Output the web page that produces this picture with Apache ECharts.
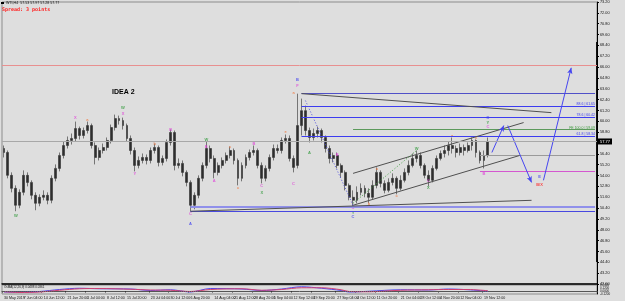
<!DOCTYPE html>
<html><head><meta charset="utf-8">
<script src="https://cdn.jsdelivr.net/npm/echarts/dist/echarts.min.js"></script>
<style>html,body{margin:0;padding:0;background:#dedede}#c{width:625px;height:301px}</style>
</head><body><div id="c"></div><script>
// ---- price data (WTI, H4, resampled) ----
const opens=[56.99,56.55,54.02,52.58,50.71,52.14,54.02,53.24,51.81,50.93,
51.59,51.81,51.26,53.69,54.79,56.22,57.32,57.88,58.10,59.20,
58.43,58.98,59.53,57.32,56.00,56.77,57.10,57.88,59.31,60.30,
60.08,59.53,58.10,56.77,55.12,55.67,56.00,55.67,56.77,57.10,
55.45,55.89,57.66,58.76,55.12,55.34,54.35,53.24,50.71,51.81,
53.69,55.12,56.99,55.89,54.35,55.12,55.67,56.22,56.77,55.67,
53.69,55.12,56.00,56.55,56.77,55.12,53.69,54.79,56.00,56.99,
56.77,57.88,58.10,55.89,55.12,59.53,61.18,58.98,58.21,58.65,
58.98,58.21,56.99,55.89,56.22,55.12,54.35,52.91,51.59,51.26,
52.14,52.58,52.03,51.59,52.91,54.35,53.13,52.36,53.24,53.69,
52.58,53.47,54.35,55.12,55.89,56.22,55.12,54.02,53.47,54.79,
55.89,56.44,56.77,57.32,56.99,56.55,57.10,56.77,57.32,57.88,
56.55,55.67,56.22];
const closes=[56.55,54.02,52.58,50.71,52.14,54.02,53.24,51.81,50.93,51.59,
51.81,51.26,53.69,54.79,56.22,57.32,57.88,58.10,59.20,58.43,
58.98,59.53,57.32,56.00,56.77,57.10,57.88,59.31,60.30,60.08,
59.53,58.10,56.77,55.12,55.67,56.00,55.67,56.77,57.10,55.45,
55.89,57.66,58.76,55.12,55.34,54.35,53.24,50.71,51.81,53.69,
55.12,56.99,55.89,54.35,55.12,55.67,56.22,56.77,55.67,53.69,
55.12,56.00,56.55,56.77,55.12,53.69,54.79,56.00,56.99,56.77,
57.88,58.10,55.89,54.90,59.53,61.18,58.98,58.21,58.65,58.98,
58.21,56.99,55.89,56.22,55.12,54.35,52.91,51.59,51.26,52.14,
52.58,52.03,51.59,52.91,54.35,53.13,52.36,53.24,53.69,52.58,
53.47,54.35,55.12,55.89,56.22,55.12,54.02,53.47,54.79,55.89,
56.44,56.77,57.32,56.99,56.55,57.10,56.77,57.32,57.88,56.55,
55.67,56.22,57.77];
const highs=[57.32,56.77,54.35,52.91,52.47,54.57,54.35,53.47,52.14,51.92,
52.36,52.14,54.02,55.23,56.55,57.77,58.32,58.65,59.97,59.42,
59.31,59.97,59.75,57.66,57.10,57.54,58.21,59.64,60.74,60.63,
60.41,59.75,58.43,57.10,56.11,56.44,56.33,57.10,57.54,57.32,
56.22,57.99,59.09,58.98,55.89,55.67,54.57,53.47,52.14,54.02,
55.45,57.77,57.32,56.22,55.45,56.00,56.55,57.21,56.99,55.89,
55.45,56.33,56.88,57.32,56.99,55.45,55.12,56.33,57.43,57.43,
58.21,58.54,58.43,56.22,63.06,62.51,61.73,59.31,59.20,59.42,
59.20,58.43,57.32,56.55,56.55,55.34,54.57,53.13,52.36,52.80,
53.13,52.91,52.58,53.47,54.90,54.57,53.47,53.69,54.24,53.91,
54.02,54.79,55.67,56.44,56.77,56.55,55.34,54.57,55.12,56.22,
56.77,57.32,57.77,58.21,57.32,57.54,57.43,57.66,58.21,57.99,
56.77,56.77,58.21];
const lows=[56.00,53.69,52.14,50.05,50.38,51.81,52.80,51.37,50.16,50.60,
51.26,50.82,50.93,53.36,54.46,55.89,56.99,57.43,57.77,57.99,
58.10,58.65,56.99,55.23,55.67,56.44,56.77,57.54,58.98,59.64,
59.09,57.77,56.33,54.46,54.79,55.34,55.23,55.34,56.44,55.01,
55.12,55.56,57.32,54.57,54.79,53.91,52.80,50.05,50.27,51.48,
53.36,54.79,55.45,53.69,54.02,54.79,55.34,55.89,55.23,52.91,
53.36,54.79,55.67,56.22,54.79,53.13,53.36,54.46,55.67,56.44,
56.44,57.54,55.56,54.35,54.79,58.43,58.43,57.66,57.88,58.21,
57.66,56.55,55.34,55.45,54.79,53.80,52.36,51.26,50.60,50.93,
51.81,51.59,50.93,51.37,52.58,52.69,52.03,52.14,52.91,51.92,
52.36,53.24,54.02,54.90,55.45,54.79,53.69,52.80,53.24,54.57,
55.67,56.00,56.22,56.44,56.00,56.22,56.22,56.55,56.77,56.00,
55.34,54.79,56.00];
const slotCount=150;
const currentPrice=57.77;
// ---- time axis ticks ----
const tickLabels=['30 May 2019','7 Jun 04:00','14 Jun 12:00','21 Jun 20:00','1 Jul 04:00','8 Jul 12:00','15 Jul 20:00','23 Jul 04:00','30 Jul 12:00','6 Aug 20:00','14 Aug 04:00','21 Aug 12:00','28 Aug 20:00','5 Sep 04:00','12 Sep 12:00','19 Sep 20:00','27 Sep 04:00','4 Oct 12:00','11 Oct 20:00','21 Oct 04:00','28 Oct 12:00','4 Nov 20:00','12 Nov 04:00','19 Nov 12:00'];
const tickIdx=[0,5,10,16,21,26,31,37,42,47,53,58,63,68,73,78,84,89,94,100,105,110,115,121];
// ---- drawn levels ----
const redLevel=66.25;
const fibStart=75, fibPrices=[63.06,61.65,60.42,58.34], fibText=['','88.6 | 61.65','78.6 | 60.42','61.8 | 58.34'];
const feStart=88, fePrice=59.09, feText='FE 100.0 | 59.09';
const shortStart=120, grayLevel=56.22, pinkLevel=54.46;
const baseStart=47, baseLevels=[50.60,50.05];
// trend lines [i1,p1,i2,p2]
const trendDown=[75,63.06,138,60.96];
const channelUp=[88,54.24,131,59.86];
const channelLow=[88,50.71,130,56.22];
const baseTrend=[47,50.05,133,51.26];
const blueDotted=[76,62.29,88,50.71];
const greenDotted=[88,50.93,104,56.77];
// projection arrows
const arrows=[[123,56.55,126,59.53],[127,59.53,133,53.24],[136,53.47,143,65.92]];
// wave labels
const waveIdx=[3,18,21,30,30,33,38,42,47,47,51,51,53,57,59,63,65,65,71,73,73,74,74,77,84,88,88,88,92,94,99,104,107,107,113,119,121,122,122,122,135,135];
const wavePrice=[49.50,60.41,60.19,61.51,60.85,54.13,57.54,59.09,49.72,48.61,57.99,57.21,53.36,57.21,52.58,57.54,52.80,52.03,58.87,53.13,63.17,64.60,63.94,56.55,56.33,50.38,49.83,49.39,50.82,54.79,51.70,56.99,53.36,52.58,58.43,58.21,54.13,60.41,59.86,59.42,53.80,52.91];
const waveText=['W','X','a','W','X','Y','b','B','C','A','W','B','A','c','c','B','C','X','e','C','a','B','F','A','B','C','Y','C','b','a','c','W','C','X','a','c','B','O','Y','C','E','B/X'];
const waveKind=['g','m','o','g','m','m','o','m','m','b','g','m','m','o','o','m','m','g','o','m','o','b','m','g','m','m','g','b','o','o','o','g','m','g','o','o','m','b','g','m','b','r'];
// indicator
const indIdx=[0,4,9,14,19,24,32,37,42,47,52,60,65,70,75,80,85,87,92,100,107,112,117,122];
const indA=[-0.4,-0.5,-0.2,0.6,1.1,0.9,0.8,0.2,0.5,-0.4,1.0,0.8,0.2,0.8,1.7,1.1,0.2,-0.4,-0.1,0.5,0.4,0.8,0.5,-0.1];
const indB=[-0.3,-0.6,-0.4,0.3,0.9,1.0,0.7,0.4,0.3,-0.2,0.6,0.9,0.3,0.6,1.3,1.3,0.5,-0.2,-0.3,0.3,0.5,0.6,0.6,0.1];

const FONT='"Liberation Sans", Arial, sans-serif';
const cats=Array.from({length:slotCount},(_,i)=>'s'+i);
const candles=opens.map((o,i)=>[o,closes[i],lows[i],highs[i]]);
const kindColor={g:'#2f9a3a',m:'#e040d8',o:'#f07840',b:'#3b3bf0',r:'#ff2020'};
const lastIdx=slotCount-1;

const ml=[];
function seg(a,b,style,label){
  const s={coord:a,lineStyle:style,symbol:'none'};
  if(label) s.label=label;
  ml.push([s,{coord:b,symbol:'none'}]);
}
const fibColor='#3c3cf0';
fibPrices.forEach((p,k)=>seg([fibStart,p],[lastIdx,p],{color:k===0?'#5050c8':fibColor,width:1,type:'solid'},
  fibText[k]?{show:true,position:'insideEndTop',formatter:fibText[k],fontSize:3.5,color:fibColor,distance:0,fontFamily:FONT}:null));
seg([feStart,fePrice],[lastIdx,fePrice],{color:'#5c9a5c',width:1,type:'solid'},
  {show:true,position:'insideEndTop',formatter:feText,fontSize:3.5,color:'#3a9a3a',distance:0,fontFamily:FONT});
seg([shortStart,grayLevel],[lastIdx,grayLevel],{color:'#9a9a9a',width:1,type:'solid'});
seg([shortStart,pinkLevel],[lastIdx,pinkLevel],{color:'#d458d0',width:1,type:'solid'});
seg([baseStart,baseLevels[0]],[lastIdx,baseLevels[0]],{color:'#9090ea',width:2,type:'solid'});
seg([baseStart,baseLevels[1]],[lastIdx,baseLevels[1]],{color:'#4848e0',width:1,type:'solid'});
[trendDown,channelUp,channelLow,baseTrend].forEach(t=>seg([t[0],t[1]],[t[2],t[3]],{color:'#505050',width:1,type:'solid'}));
seg([blueDotted[0],blueDotted[1]],[blueDotted[2],blueDotted[3]],{color:'#5050e0',width:1,type:[1,2]});
seg([greenDotted[0],greenDotted[1]],[greenDotted[2],greenDotted[3]],{color:'#40a040',width:1,type:[1,2]});
arrows.forEach(a=>ml.push([{coord:[a[0],a[1]],symbol:'none',lineStyle:{color:'#4646f0',width:1,type:'solid'}},
  {coord:[a[2],a[3]],symbol:'arrow',symbolSize:[4,6]}]));
ml.push({yAxis:redLevel,lineStyle:{color:'#e89090',width:1,type:'solid'},symbol:'none'});
ml.push({yAxis:currentPrice,lineStyle:{color:'#a8a8a8',width:1,type:'solid'},symbol:'none',
  label:{show:true,position:'end',formatter:currentPrice.toFixed(2),backgroundColor:'#000',color:'#fff',fontSize:4,padding:[1,2],distance:1,fontFamily:FONT}});

const waveData=waveIdx.map((x,k)=>({value:[x,wavePrice[k]],label:{formatter:waveText[k],color:kindColor[waveKind[k]]}}));

const chart=echarts.init(document.getElementById('c'),null,{renderer:'canvas'});
chart.setOption({
  backgroundColor:'#dedede',
  animation:false,
  textStyle:{fontFamily:FONT},
  grid:[{left:2,right:28,top:1,height:283,show:true,borderColor:'#8c8c8c',borderWidth:1},
        {left:2,right:28,top:285,height:9,show:true,borderColor:'#8c8c8c',borderWidth:1}],
  xAxis:[{type:'category',gridIndex:0,data:cats,boundaryGap:true,axisLabel:{show:false},axisTick:{show:false},
          axisLine:{show:true,lineStyle:{color:'#000',width:1.5}},splitLine:{show:false}},
         {type:'category',gridIndex:1,data:cats,boundaryGap:true,
          axisLine:{show:true,lineStyle:{color:'#555',width:1}},
          axisTick:{show:true,length:1.5,interval:(i)=>tickIdx.includes(i),lineStyle:{color:'#333'}},
          axisLabel:{show:true,interval:0,fontSize:3.6,color:'#111',margin:1.5,align:'left',
            formatter:(v,i)=>{const k=tickIdx.indexOf(i);return k>=0?tickLabels[k]:'';}},splitLine:{show:false}}],
  yAxis:[{type:'value',gridIndex:0,position:'right',min:42,max:73.2,interval:1.2,
          axisLine:{show:true,lineStyle:{color:'#000',width:1}},axisTick:{show:true,length:2,lineStyle:{color:'#000'}},
          axisLabel:{fontSize:3.8,color:'#111',margin:3,formatter:v=>v.toFixed(2)},splitLine:{show:false}},
         {type:'value',gridIndex:1,position:'right',min:-1.2,max:2.4,interval:1.2,
          axisLine:{show:true,lineStyle:{color:'#000'}},axisTick:{show:false},
          axisLabel:{fontSize:3,color:'#111',margin:3,formatter:v=>(v/10).toFixed(4)},splitLine:{show:false}}],
  series:[
    {type:'candlestick',xAxisIndex:0,yAxisIndex:0,data:candles,barWidth:2.4,
     itemStyle:{color:'#2e2e2e',color0:'#2e2e2e',borderColor:'#2e2e2e',borderColor0:'#2e2e2e',borderWidth:0.6},
     markLine:{silent:true,symbol:'none',label:{show:false},data:ml,animation:false}},
    {type:'scatter',xAxisIndex:0,yAxisIndex:0,data:waveData,symbolSize:0.1,itemStyle:{color:'rgba(0,0,0,0)'},
     label:{show:true,position:'inside',fontSize:4,fontWeight:'bold',fontFamily:FONT},silent:true},
    {type:'line',xAxisIndex:1,yAxisIndex:1,data:indIdx.map((x,k)=>[x,indA[k]]),showSymbol:false,smooth:0.3,
     lineStyle:{color:'#4a4af0',width:1},
     markLine:{silent:true,symbol:'none',label:{show:false},data:[{yAxis:0,lineStyle:{color:'#555',type:[1,1],width:1}}]}},
    {type:'line',xAxisIndex:1,yAxisIndex:1,data:indIdx.map((x,k)=>[x,indB[k]]),showSymbol:false,smooth:0.3,
     lineStyle:{color:'#d04070',width:1}}
  ],
  graphic:[
    {type:'rect',left:1,top:2,shape:{width:3,height:2},style:{fill:'#000'}},
    {type:'text',left:6,top:1,style:{text:'WTI,H4  57.53 57.97 57.28 57.77',font:'3.6px '+FONT,fill:'#111'}},
    {type:'text',left:2,top:7,style:{text:'Spread: 3 points',font:'bold 5px "DejaVu Sans Mono", monospace',fill:'#ff2020'}},
    {type:'text',left:112,top:89,style:{text:'IDEA 2',font:'bold 7px '+FONT,fill:'#000'}},
    {type:'text',left:4,top:285.5,style:{text:'OsMA(12,26,9) 0.0488 0.0361',font:'3px '+FONT,fill:'#111'}},
    {type:'rect',left:596,top:42,shape:{width:2,height:220},style:{fill:'#111'}}
  ]
});
</script></body></html>
